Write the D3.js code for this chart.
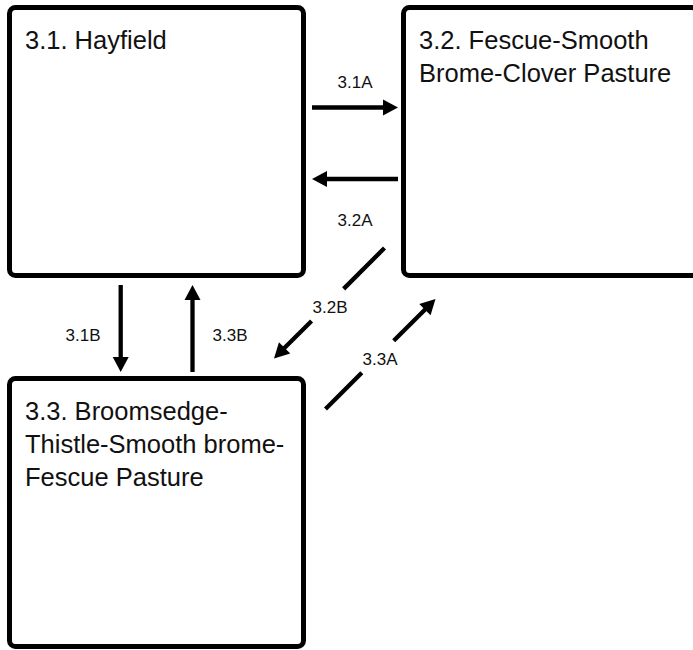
<!DOCTYPE html>
<html>
<head>
<meta charset="utf-8">
<script src="https://cdn.jsdelivr.net/npm/d3@7"></script>
<style>
  html, body { margin: 0; padding: 0; background: #fff; }
  svg { display: block; }
</style>
</head>
<body>
<div id="chart"></div>
<script>
// ---- data ----
const stateIds = ["3.1", "3.2", "3.3"];
const stateLines = [
  ["3.1. Hayfield"],
  ["3.2. Fescue-Smooth", "Brome-Clover Pasture"],
  ["3.3. Broomsedge-", "Thistle-Smooth brome-", "Fescue Pasture"]
];
const stateCols = [0, 1, 0];
const stateRows = [0, 0, 1];

const transLabels = ["3.1A", "3.2A", "3.1B", "3.3B", "3.2B", "3.3A"];
const transFrom   = ["3.1", "3.2", "3.1", "3.3", "3.2", "3.3"];
const transTo     = ["3.2", "3.1", "3.3", "3.1", "3.3", "3.2"];

// ---- layout ----
const W = 693, H = 650;
const svg = d3.select("#chart").append("svg").attr("width", W).attr("height", H);

const x = d3.scaleLinear().domain([0, 1]).range([9.5, 403.5]);   // box left (stroke centre)
const y = d3.scaleLinear().domain([0, 1]).range([7.5, 378.5]);   // box top
const boxW = 294, boxH = 268;
const font = "'Liberation Sans', Arial, Helvetica, sans-serif";

const states = stateIds.map((id, i) => ({
  id, lines: stateLines[i], x: x(stateCols[i]), y: y(stateRows[i])
}));

const g = svg.append("g");
const sg = g.selectAll("g.state").data(states).join("g").attr("class", "state");
sg.append("rect")
  .attr("x", d => d.x).attr("y", d => d.y)
  .attr("width", boxW).attr("height", boxH)
  .attr("rx", 6).attr("ry", 6)
  .attr("fill", "#fff").attr("stroke", "#000").attr("stroke-width", 5);
sg.append("text")
  .attr("font-family", font).attr("font-size", 25.5).attr("fill", "#111")
  .selectAll("tspan").data(d => d.lines.map((l, k) => ({ l, k, d }))).join("tspan")
  .attr("x", t => t.d.x + 15.5)
  .attr("y", t => t.d.y + 41 + t.k * 33)
  .text(t => t.l);

// arrow geometry derived from box layout
const byId = Object.fromEntries(states.map(s => [s.id, s]));
const gapL = byId["3.1"].x + boxW, gapR = byId["3.2"].x;   // horizontal gap
const gapT = byId["3.1"].y + boxH, gapB = byId["3.3"].y;   // vertical gap

function geom(label) {
  const s1 = byId["3.1"];
  switch (label) {
    case "3.1A": return { x1: gapL + 8.5, y1: s1.y + 100, x2: gapR - 5.5, y2: s1.y + 100, lx: 355, ly: 88 };
    case "3.2A": return { x1: gapR - 5.5, y1: s1.y + 171.5, x2: gapL + 8.5, y2: s1.y + 171.5, lx: 355, ly: 226 };
    case "3.1B": return { x1: 120.7, y1: gapT + 9.5, x2: 120.7, y2: gapB - 6.5, lx: 83, ly: 341 };
    case "3.3B": return { x1: 192.5, y1: gapB - 6.5, x2: 192.5, y2: gapT + 9.5, lx: 230, ly: 341 };
    case "3.2B": return { x1: 384.5, y1: 248, x2: 274, y2: 358.5, lx: 330, ly: 313, gap: [0.37, 0.66] };
    case "3.3A": return { x1: 325.5, y1: 409, x2: 435.5, y2: 299, lx: 380, ly: 365, gap: [0.33, 0.62] };
  }
}

const trans = transLabels.map((label, i) => ({ label, from: transFrom[i], to: transTo[i], ...geom(label) }));

const headLen = 15, headW = 8;
const ag = g.selectAll("g.trans").data(trans).join("g").attr("class", "trans");

ag.each(function(d) {
  const el = d3.select(this);
  const dx = d.x2 - d.x1, dy = d.y2 - d.y1;
  const len = Math.hypot(dx, dy);
  const ux = dx / len, uy = dy / len;
  const bx = d.x2 - ux * headLen, by = d.y2 - uy * headLen;   // base of head
  const segs = d.gap
    ? [[0, d.gap[0]], [d.gap[1], (len - headLen + 1) / len]]
    : [[0, (len - headLen + 1) / len]];
  segs.forEach(([a, b]) => {
    el.append("line")
      .attr("x1", d.x1 + dx * a).attr("y1", d.y1 + dy * a)
      .attr("x2", d.x1 + dx * b).attr("y2", d.y1 + dy * b)
      .attr("stroke", "#000").attr("stroke-width", 4.3);
  });
  const px = -uy, py = ux;
  el.append("path")
    .attr("d", `M${d.x2},${d.y2}L${bx + px * headW},${by + py * headW}L${bx - px * headW},${by - py * headW}Z`)
    .attr("fill", "#000");
  el.append("text")
    .attr("x", d.lx).attr("y", d.ly)
    .attr("text-anchor", "middle")
    .attr("font-family", font).attr("font-size", 17).attr("fill", "#111")
    .text(d.label);
});
</script>
</body>
</html>
